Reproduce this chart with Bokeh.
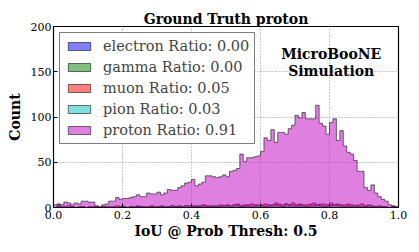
import numpy as np
from bokeh.plotting import figure
from bokeh.models import Label, Legend, LegendItem, FixedTicker
from bokeh.embed import file_html
from bokeh.resources import INLINE

# ---- data (100 bins from 0 to 1) ----
bin_lo = 0.0
bin_hi = 1.0
n_bins = 100

proton = [3, 4, 3, 6, 5, 3, 5, 4, 7, 7,
          6, 6, 2, 1, 3, 4, 7, 7, 11, 9,
          10, 10, 11, 12, 14, 12, 12, 16, 15, 15,
          17, 14, 16, 20, 19, 19, 22, 24, 27, 28,
          31, 24, 26, 28, 35, 35, 34, 33, 34, 36,
          34, 40, 41, 43, 59, 51, 55, 55, 56, 57,
          62, 77, 74, 86, 72, 83, 83, 81, 87, 91,
          102, 99, 105, 98, 98, 98, 113, 93, 90, 81,
          94, 98, 74, 85, 68, 61, 59, 52, 40, 40,
          22, 19, 25, 16, 12, 9, 7, 3, 2, 1]
muon = [0, 1, 0, 1, 2, 1, 0, 1, 1, 0,
        1, 0, 1, 0, 1, 1, 0, 1, 2, 1,
        1, 0, 1, 1, 2, 1, 1, 0, 2, 1,
        1, 2, 1, 1, 2, 1, 2, 1, 2, 2,
        2, 1, 2, 3, 2, 2, 1, 2, 3, 2,
        3, 2, 3, 4, 2, 3, 3, 4, 3, 2,
        3, 4, 3, 3, 5, 4, 3, 4, 3, 5,
        3, 4, 3, 3, 4, 5, 3, 4, 4, 3,
        5, 3, 4, 3, 3, 4, 3, 2, 3, 4,
        2, 3, 2, 1, 2, 1, 1, 0, 1, 0]
pion = [0, 0, 1, 0, 0, 1, 0, 0, 1, 0,
        0, 1, 0, 0, 1, 0, 1, 0, 0, 1,
        1, 0, 1, 0, 1, 1, 0, 1, 1, 0,
        1, 1, 0, 1, 2, 1, 1, 1, 2, 1,
        1, 2, 1, 2, 1, 1, 2, 1, 1, 2,
        2, 1, 3, 2, 1, 2, 2, 1, 2, 3,
        2, 1, 2, 2, 3, 2, 1, 4, 2, 2,
        2, 3, 2, 1, 2, 2, 3, 2, 1, 2,
        2, 3, 2, 2, 1, 2, 1, 2, 1, 1,
        1, 2, 1, 1, 0, 1, 0, 0, 1, 0]
electron = [0] * 100
electron[55] = 1
electron[66] = 1
electron[71] = 1
gamma = [0] * 100
gamma[1] = 3
gamma[60] = 1

labels = ["electron Ratio: 0.00", "gamma Ratio: 0.00", "muon Ratio: 0.05",
          "pion Ratio: 0.03", "proton Ratio: 0.91"]
colors = ["#0000ff", "#008000", "#ff0000", "#00bfbf", "#bf00bf"]
series = [electron, gamma, muon, pion, proton]

x_ticks = [0.0, 0.2, 0.4, 0.6, 0.8, 1.0]
y_ticks = [0, 50, 100, 150, 200]

SERIF = "DejaVu Serif"

edges = np.linspace(bin_lo, bin_hi, n_bins + 1)


def step_poly(counts):
    xs = [edges[0]]
    ys = [0]
    for i, c in enumerate(counts):
        xs += [edges[i], edges[i + 1]]
        ys += [c, c]
    xs.append(edges[-1])
    ys.append(0)
    return xs, ys


p = figure(width=411, height=244, x_range=(0, 1), y_range=(0, 200),
           output_backend="svg", toolbar_location=None,
           min_border_left=53, min_border_right=13, min_border_top=26,
           min_border_bottom=37, title="Ground Truth proton")
p.background_fill_color = "white"
p.border_fill_color = "white"
p.outline_line_color = "black"
p.outline_line_width = 1.2

p.title.align = "center"
p.title.text_font = SERIF
p.title.text_font_style = "bold"
p.title.text_font_size = "14px"
p.title.text_color = "black"
p.title.standoff = 0
p.title.offset = 0

items = []
for lab, col, cnt in zip(labels, colors, series):
    xs, ys = step_poly(cnt)
    r = p.patch(xs, ys, fill_color=col, fill_alpha=0.5, line_color="black",
                line_alpha=0.55, line_width=1)
    items.append(LegendItem(label=lab, renderers=[r]))

legend = Legend(items=items, location="top_left", margin=6, padding=5,
                glyph_width=28, glyph_height=10, label_standoff=10,
                spacing=5, label_height=16,
                label_text_font=SERIF, label_text_font_size="14.5px",
                label_text_font_style="normal",
                border_line_color="black", border_line_width=1,
                background_fill_color="white", background_fill_alpha=1.0)
p.add_layout(legend)

# axes
p.xaxis.ticker = FixedTicker(ticks=x_ticks)
p.yaxis.ticker = FixedTicker(ticks=y_ticks)
p.xaxis.major_label_overrides = {t: f"{t:.1f}" for t in x_ticks}
for ax in (p.xaxis[0], p.yaxis[0]):
    ax.major_tick_in = 4
    ax.major_tick_out = 0
    ax.minor_tick_in = 0
    ax.minor_tick_out = 0
    ax.axis_line_color = None
    ax.major_label_text_font = SERIF
    ax.major_label_text_font_size = "11px"
    ax.major_label_text_color = "black"
    ax.axis_label_text_font = SERIF
    ax.axis_label_text_font_style = "bold"
    ax.axis_label_text_font_size = "14px"
    ax.axis_label_text_color = "black"
p.xaxis.major_label_standoff = 3
p.yaxis.major_label_standoff = 2
p.xaxis.axis_label = "IoU @ Prob Thresh: 0.5"
p.yaxis.axis_label = "Count"
p.xaxis.axis_label_standoff = 1
p.yaxis.axis_label_standoff = 5

p.grid.grid_line_color = "#9a9a9a"
p.grid.grid_line_dash = "1 2"
p.grid.grid_line_width = 1

t1 = Label(x=0.805, y=200, y_offset=-27, text="MicroBooNE",
           text_align="center", text_baseline="alphabetic",
           text_font=SERIF, text_font_style="bold", text_font_size="14px",
           text_color="black")
t2 = Label(x=0.805, y=200, y_offset=-44, text="Simulation",
           text_align="center", text_baseline="alphabetic",
           text_font=SERIF, text_font_style="bold", text_font_size="14px",
           text_color="black")
p.add_layout(t1)
p.add_layout(t2)

open("out.html", "w").write(file_html(p, INLINE))
